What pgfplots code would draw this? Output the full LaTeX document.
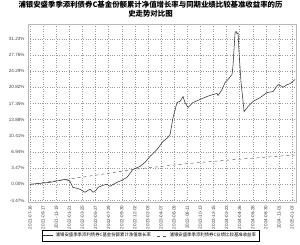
\documentclass[border=0pt]{standalone}
\usepackage{pgfplots}
\pgfplotsset{compat=1.18}
\usepackage{fontspec}
\setmainfont{Liberation Sans}
\newfontfamily\cjk{Noto Sans CJK SC}
\definecolor{gridc}{HTML}{999999}
\definecolor{fundc}{HTML}{333333}
\definecolor{benchc}{HTML}{555555}
\begin{document}
\begin{tikzpicture}
\begin{axis}[
  name=main,
  scale only axis,
  width=268pt, height=178pt,
  xmin=-0.15, xmax=20.3,
  ymin=-3.79, ymax=34.4,
  axis line style={gridc!70, line width=0.4pt},
  grid=both,
  major grid style={gridc, dotted, line width=0.4pt},
  tick style={draw=none},
  xtick={0,1,...,20},
  xticklabels={2021-07-16,2021-09-17,2021-11-19,2022-01-21,2022-03-25,2022-05-27,2022-07-29,2022-09-30,2022-12-02,2023-02-03,2023-04-07,2023-06-09,2023-08-11,2023-10-13,2023-12-15,2024-02-23,2024-04-26,2024-06-28,2024-08-30,2024-11-01,2025-01-03},
  xticklabel style={rotate=90, anchor=east, font=\fontsize{4.6}{5}\selectfont, text=black!75},
  ytick={-3.47,0,3.47,6.94,10.41,13.88,17.35,20.82,24.29,27.76,31.23},
  yticklabels={-3.47\%,0.00\%,3.47\%,6.94\%,10.41\%,13.88\%,17.35\%,20.82\%,24.29\%,27.76\%,31.23\%},
  yticklabel style={font=\fontsize{4.6}{5}\selectfont, text=black!75},
  /pgf/number format/assume math mode=true,
  legend style={at={(0.457,-0.157)}, anchor=north, legend columns=2, draw=black, line width=0.4pt,
    font=\cjk\fontsize{4.4}{5}\selectfont, inner sep=1pt, row sep=0pt,
    /tikz/every even column/.append style={column sep=4pt}},
  legend image post style={xscale=0.6},
]
\addplot[fundc, line width=0.55pt] coordinates {
(0,0) (0.76,0.21) (1.53,0.43) (2.2,0.8) (2.67,1.07) (2.9,0.86) (3.05,0.64) (3.28,-0.64) (3.59,-0.86)
(3.82,-1.07) (4.2,-1.71) (4.43,-1.29) (4.58,-1.07) (4.81,-1.71) (5.04,-1.29) (5.19,-0.64) (5.57,-0.21)
(5.88,0) (6.1,-0.43) (6.64,0.43) (7.02,0.86) (7.4,1.5) (7.86,3.2) (8.4,3.86) (8.78,4.71) (9.16,6.0)
(9.7,7.5) (10.15,9.2) (10.53,10.07) (10.69,10.7) (10.92,14.35) (11.22,17.56) (11.45,17.8) (11.68,18.85)
(11.83,17.56) (12.06,16.5) (12.44,17.56) (12.98,18.2) (13.51,18.85) (13.97,19.28) (14.27,19.5) (14.35,19.06)
(14.66,20.35) (14.89,21.85) (15.11,22.5) (15.42,23.56) (15.5,25.7) (15.65,32.6) (15.73,32.8) (15.8,32.3)
(15.88,32.5) (15.95,28.5) (16.1,22.1) (16.26,17.8) (16.34,15.6) (16.64,16.7) (17.02,17.8) (17.56,18.6)
(18.09,19.7) (18.55,19.9) (18.93,21.4) (19.24,21.0) (19.31,20.8) (19.62,21.4) (19.85,21.6) (20.23,22.5)
};
\addlegendentry{浦银安盛季季添利债券C基金份额累计净值增长率}
\addplot[benchc, dashed, line width=0.45pt] coordinates {
(0,0) (2.9,1.1) (8.2,3.3) (12.2,4.5) (16,5.4) (20.23,6.3)
};
\addlegendentry{浦银安盛季季添利债券C业绩比较基准收益率}
\end{axis}
\node[anchor=north, inner sep=0pt, align=center, font=\cjk\bfseries\fontsize{7.4}{9.2}\selectfont]
  at ([xshift=-11.5pt,yshift=23pt]main.north)
  {浦银安盛季季添利债券C基金份额累计净值增长率与同期业绩比较基准收益率的历\\史走势对比图};
\pgfresetboundingbox
\path ([xshift=-28pt,yshift=-42pt]main.south west) rectangle ([xshift=4pt,yshift=24pt]main.north east);
\end{tikzpicture}
\end{document}
